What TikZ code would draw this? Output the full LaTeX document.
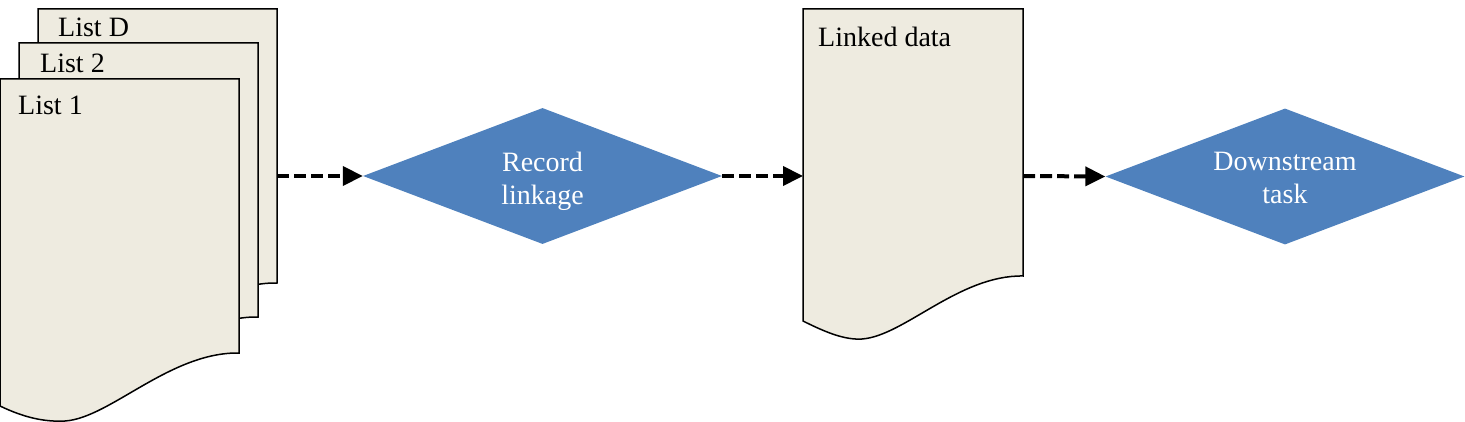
\documentclass[tikz,border=0pt]{standalone}
\usepackage{fontspec}
\setmainfont{Liberation Serif}
\usetikzlibrary{shapes.geometric,arrows.meta}
\definecolor{docfill}{HTML}{EEEBE0}
\definecolor{diafill}{HTML}{4F81BD}
\tikzset{
  docbox/.style={draw=black, fill=docfill, line width=1.5pt, line join=miter},
  lbl/.style={anchor=base west, inner sep=0pt, font=\fontsize{28}{32}\selectfont},
  decision/.style={diamond, fill=diafill, draw=none, aspect=2.64, inner sep=0pt,
    minimum width=359pt, minimum height=136pt},
  dtext/.style={text=white, align=center, inner sep=0pt,
    font=\fontsize{28}{33}\selectfont},
  flow/.style={line width=4pt, dash pattern=on 12pt off 5pt,
    -{Triangle[length=20pt,width=19pt]}, shorten >=0pt},
  pics/listdoc/.style={code={
    \draw[docbox] (0,79) -- (239,79) -- (239,353)
      .. controls (170,352) and (110,418) .. (65,421)
      .. controls (45,422) and (25,418) .. (0,406) -- cycle;
  }}
}
\begin{document}
\begin{tikzpicture}[x=1pt,y=-1pt]
\useasboundingbox (0,0) rectangle (1465,422);
% stacked lists
\pic at (38,-70) {listdoc};
\pic at (19,-36) {listdoc};
\pic at (0,0) {listdoc};
\node[lbl] (lD) at (58,37) {List D};
\node[lbl] (l2) at (40,73) {List 2};
\node[lbl] (l1) at (18,115) {List 1};
\coordinate (stack) at (277,176);
% linked data
\draw[docbox] (803,9) -- (1023,9) -- (1023,276)
  .. controls (959,275) and (904,336) .. (862,339)
  .. controls (845,340) and (827,333) .. (803,321) -- cycle;
\node[lbl] (ld) at (818,47) {Linked data};
\coordinate (ldL) at (803,176);
\coordinate (ldR) at (1023,176);
% decisions
\node[decision] (rl) at (542.5,176) {};
\node[decision] (ds) at (1285,176.5) {};
\node[dtext] (rlt) at (542.5,181) {Record\\linkage};
\node[dtext] (dst) at (1285,181) {Downstream\\task\vphantom{g}};
% connectors
\draw[flow] (stack) -- (rl.west);
\draw[flow] (rl.east) -- (ldL);
\draw[flow] (ldR) -- (ds.west);
\end{tikzpicture}
\end{document}
